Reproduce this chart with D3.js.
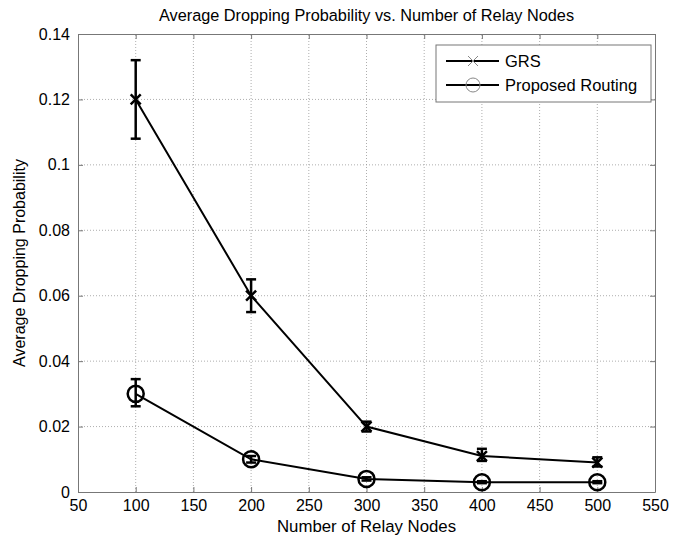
<!DOCTYPE html>
<html>
<head>
<meta charset="utf-8">
<script src="https://d3js.org/d3.v7.min.js"></script>
<style>
	body { margin: 0; background: #fff; }
	svg text { font-family: 'Liberation Sans', Arial, sans-serif; fill: #000; }
</style>
</head>
<body>
<script>
// data
var nodes = [100, 200, 300, 400, 500];
var grs = [0.12, 0.06, 0.02, 0.011, 0.009];
var grsLow = [0.108, 0.055, 0.0185, 0.0095, 0.0078];
var grsHigh = [0.132, 0.065, 0.0215, 0.0132, 0.0106];
var prop = [0.03, 0.01, 0.004, 0.003, 0.003];
var propLow = [0.0262, 0.009, 0.0035, 0.0027, 0.0027];
var propHigh = [0.0345, 0.011, 0.0045, 0.0033, 0.0033];
var xTicks = [50, 100, 150, 200, 250, 300, 350, 400, 450, 500, 550];
var yTicks = [0, 0.02, 0.04, 0.06, 0.08, 0.1, 0.12, 0.14];

var W = 692, H = 538;
var m = {left: 78, right: 37, top: 34, bottom: 46};

var svg = d3.select('body').append('svg')
	.attr('width', W)
	.attr('height', H);

var x = d3.scaleLinear().domain([50, 550]).range([m.left, W - m.right]);
var y = d3.scaleLinear().domain([0, 0.14]).range([H - m.bottom, m.top]);

// grid
svg.append('g').selectAll('line').data(xTicks.slice(1, -1)).enter().append('line')
	.attr('x1', d => x(d)).attr('x2', d => x(d))
	.attr('y1', y(0)).attr('y2', y(0.14))
	.attr('stroke', '#999').attr('stroke-width', 0.8).attr('stroke-dasharray', '1,2');
svg.append('g').selectAll('line').data(yTicks.slice(1, -1)).enter().append('line')
	.attr('y1', d => y(d)).attr('y2', d => y(d))
	.attr('x1', x(50)).attr('x2', x(550))
	.attr('stroke', '#999').attr('stroke-width', 0.8).attr('stroke-dasharray', '1,2');

// axes, ticks inside like matlab
var fmt = d => d === 0 ? '0' : String(+d.toFixed(2));
var xAx = svg.append('g').attr('transform', 'translate(0,' + y(0) + ')')
	.call(d3.axisBottom(x).tickValues(xTicks).tickSizeInner(-5).tickSizeOuter(0).tickPadding(8));
var xAxTop = svg.append('g').attr('transform', 'translate(0,' + y(0.14) + ')')
	.call(d3.axisTop(x).tickValues(xTicks).tickSizeInner(-5).tickSizeOuter(0).tickFormat(''));
var yAx = svg.append('g').attr('transform', 'translate(' + x(50) + ',0)')
	.call(d3.axisLeft(y).tickValues(yTicks).tickFormat(fmt).tickSizeInner(-5).tickSizeOuter(0).tickPadding(8));
var yAxR = svg.append('g').attr('transform', 'translate(' + x(550) + ',0)')
	.call(d3.axisRight(y).tickValues(yTicks).tickSizeInner(-5).tickSizeOuter(0).tickFormat(''));
[xAx, xAxTop, yAx, yAxR].forEach(function (g) {
	g.selectAll('path, line').attr('stroke', '#777');
	g.selectAll('text').style('font-size', '16px').style('font-family', "'Liberation Sans', Arial, sans-serif").attr('fill', '#000');
});

// series
var line = d3.line().x(d => x(d[0])).y(d => y(d[1]));
var grsPts = nodes.map((n, i) => [n, grs[i]]);
var propPts = nodes.map((n, i) => [n, prop[i]]);

function errBars(lo, hi) {
	var g = svg.append('g').attr('stroke', '#000').attr('stroke-width', 2.5);
	nodes.forEach(function (n, i) {
		g.append('line').attr('x1', x(n)).attr('x2', x(n)).attr('y1', y(lo[i])).attr('y2', y(hi[i]));
		g.append('line').attr('x1', x(n) - 5).attr('x2', x(n) + 5).attr('y1', y(lo[i])).attr('y2', y(lo[i]));
		g.append('line').attr('x1', x(n) - 5).attr('x2', x(n) + 5).attr('y1', y(hi[i])).attr('y2', y(hi[i]));
	});
}

svg.append('path').datum(grsPts).attr('d', line)
	.attr('fill', 'none').attr('stroke', '#000').attr('stroke-width', 2);
errBars(grsLow, grsHigh);
svg.append('g').selectAll('path').data(grsPts).enter().append('path')
	.attr('d', 'M-5,-5L5,5M-5,5L5,-5')
	.attr('transform', d => 'translate(' + x(d[0]) + ',' + y(d[1]) + ')')
	.attr('stroke', '#000').attr('stroke-width', 2.5).attr('fill', 'none');

svg.append('path').datum(propPts).attr('d', line)
	.attr('fill', 'none').attr('stroke', '#000').attr('stroke-width', 2);
errBars(propLow, propHigh);
svg.append('g').selectAll('circle').data(propPts).enter().append('circle')
	.attr('cx', d => x(d[0])).attr('cy', d => y(d[1])).attr('r', 8)
	.attr('fill', 'none').attr('stroke', '#000').attr('stroke-width', 2.5);

// legend
var lg = svg.append('g').attr('transform', 'translate(436,45)');
lg.append('rect').attr('width', 215).attr('height', 57)
	.attr('fill', '#fff').attr('stroke', '#777').attr('stroke-width', 1);
var items = [{name: 'GRS', mark: 'x'}, {name: 'Proposed Routing', mark: 'o'}];
items.forEach(function (it, i) {
	var yy = 16 + i * 24;
	lg.append('line').attr('x1', 10).attr('x2', 63).attr('y1', yy).attr('y2', yy)
		.attr('stroke', '#000').attr('stroke-width', 2);
	if (it.mark === 'x') {
		lg.append('path').attr('d', 'M-5,-5L5,5M-5,5L5,-5')
			.attr('transform', 'translate(37,' + yy + ')')
			.attr('stroke', '#888').attr('stroke-width', 1).attr('fill', 'none');
	} else {
		lg.append('circle').attr('cx', 37).attr('cy', yy).attr('r', 7)
			.attr('fill', 'none').attr('stroke', '#888').attr('stroke-width', 1);
	}
	lg.append('text').attr('x', 69).attr('y', yy + 6).text(it.name).style('font-size', '16.5px');
});

// titles
svg.append('text').attr('x', (x(50) + x(550)) / 2).attr('y', 21)
	.attr('text-anchor', 'middle').style('font-size', '16.3px')
	.text('Average Dropping Probability vs. Number of Relay Nodes');
svg.append('text').attr('x', (x(50) + x(550)) / 2).attr('y', 532)
	.attr('text-anchor', 'middle').style('font-size', '16.8px')
	.text('Number of Relay Nodes');
svg.append('text')
	.attr('transform', 'translate(25,' + ((y(0) + y(0.14)) / 2) + ') rotate(-90)')
	.attr('text-anchor', 'middle').style('font-size', '16px')
	.text('Average Dropping Probability');
</script>
</body>
</html>
